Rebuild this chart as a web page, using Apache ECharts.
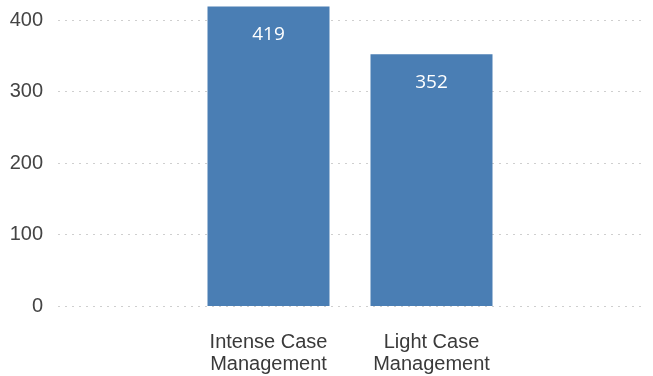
<!DOCTYPE html>
<html>
<head>
<meta charset="utf-8">
<script src="https://cdn.jsdelivr.net/npm/echarts@6/dist/echarts.min.js"></script>
<style>html,body{margin:0;padding:0;background:#fff;}#c{width:653px;height:376px;}</style>
</head>
<body>
<div id="c"></div>
<script>
const categories = ['Intense Case\nManagement', 'Light Case\nManagement'];
const values = [419, 352];
const yTicks = [0, 100, 200, 300, 400];

const chart = echarts.init(document.getElementById('c'));
chart.setOption({
  animation: false,
  grid: [
    { left: 58, right: 8, top: 20, bottom: 70 },
    { left: 187, width: 326, top: 20, bottom: 70 }
  ],
  xAxis: [
    { gridIndex: 0, type: 'value', min: 0, max: 1, show: false },
    {
      gridIndex: 1, type: 'category', data: categories,
      axisLine: { show: false }, axisTick: { show: false },
      axisLabel: { margin: 25, fontSize: 20, lineHeight: 22, color: '#3a3a3a', fontFamily: 'Liberation Sans, Arial, sans-serif' }
    }
  ],
  yAxis: [
    {
      gridIndex: 0, type: 'value', min: yTicks[0], max: yTicks[yTicks.length - 1], interval: 100,
      axisLine: { show: false }, axisTick: { show: false },
      axisLabel: { margin: 15, fontSize: 20, color: '#444', fontFamily: 'Liberation Sans, Arial, sans-serif' },
      splitLine: { lineStyle: { color: '#cfcfcf', type: [2, 5], width: 1 } }
    },
    { gridIndex: 1, type: 'value', min: 0, max: 400, show: false, splitLine: { show: false } }
  ],
  series: [{
    type: 'bar', xAxisIndex: 1, yAxisIndex: 1, data: values, barWidth: 122, clip: false,
    itemStyle: { color: '#4a7eb4' },
    label: { show: true, position: 'insideTop', distance: 19, color: '#fff', fontSize: 19, fontFamily: 'Open Sans, sans-serif' }
  }]
});
</script>
</body>
</html>
